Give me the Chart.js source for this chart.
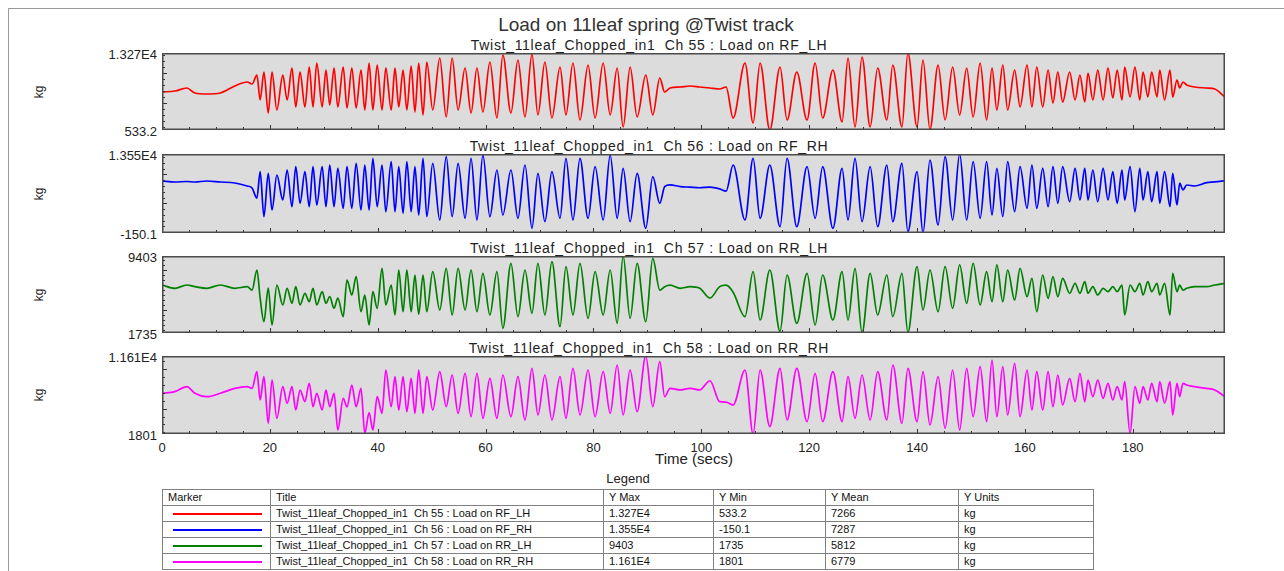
<!DOCTYPE html>
<html>
<head>
<meta charset="utf-8">
<script src="https://cdn.jsdelivr.net/npm/chart.js@4.4.1/dist/chart.umd.min.js"></script>
<style>
body{margin:0;background:#fff;font-family:"Liberation Sans",Arial,sans-serif;color:#222;}
#page{position:relative;width:1284px;height:571px;overflow:hidden;}
#frame{position:absolute;left:8px;top:8px;width:1300px;height:600px;border-left:1px solid #9a9a9a;border-top:1px solid #9a9a9a;}
.t{position:absolute;white-space:pre;line-height:1;}
.c{transform:translateX(-50%);}
.r{transform:translateX(-100%);}
canvas{position:absolute;}
#legend{position:absolute;left:162px;top:489px;border-collapse:collapse;font-size:11px;color:#111;}
#legend td{border:1px solid #808080;height:15px;padding:0 0 0 5px;white-space:pre;line-height:15px;}
.mk{height:0;margin:0 8px 0 5px;border-top-width:2px;border-top-style:solid;}
</style>
</head>
<body>
<div id="page">
<div id="frame"></div>
<div class="t c" style="left:646px;top:15px;font-size:19px;color:#333;">Load on 11leaf spring @Twist track</div>
<div class="t c" style="left:694px;top:451px;font-size:15px;">Time (secs)</div>
<div class="t c" style="left:628px;top:472px;font-size:13px;">Legend</div>
<table id="legend"></table>
</div>
<script>
// time base (secs) shared by the four channels
var timeSec = [
0, 2.4, 4.6, 6.1, 8.3, 10.8, 13.5, 15.8, 16.7,
17.6, 18.2, 18.9, 19.7, 20.4, 21.3, 22.4, 23.2, 24.1, 24.8,
25.6, 26.5, 27.3, 28.0, 28.7, 29.7, 30.4, 31.1, 31.9, 32.6,
33.6, 34.3, 35.2, 36.0, 36.9, 37.6, 38.4, 39.1, 39.9, 40.8,
41.5, 42.5, 43.2, 43.9, 44.7, 45.4, 46.2, 46.9, 47.6, 48.4,
49.1, 50.2, 51.5, 52.7, 53.8, 54.9, 56.2, 57.3, 58.4, 59.5,
60.8, 62.1, 63.2, 64.7, 66.0, 67.3, 68.6, 69.7, 71.0, 72.3,
73.8, 74.9, 76.2, 77.5, 79.0, 80.3, 81.8, 83.1, 84.4, 85.5,
86.8, 88.1, 89.7, 91.0, 92.3,
93.2, 94.2, 96.1, 97.9, 99.7, 101.6, 103.4, 104.6,
105.9, 108.1, 109.6, 110.9, 112.7, 114.6, 115.9, 117.7, 119.6, 121.1,
122.5, 124.4, 126.1, 127.2, 128.5, 129.8, 131.3, 132.7, 134.4, 135.5,
137.2, 138.3, 140.0, 141.1, 142.4, 143.9, 145.2, 146.6, 147.9, 149.2,
150.4, 151.7, 152.9, 153.9, 154.8, 155.9, 156.8, 158.1, 159.1, 160.4,
161.3, 162.2, 163.3, 164.3, 165.2, 166.1, 167.0, 168.3, 169.3, 170.2,
171.1, 171.7, 172.6, 173.5, 174.5, 175.4, 176.3, 177.1, 178.0, 178.5,
179.5, 180.4, 181.3, 181.9, 182.8, 183.5, 184.5, 185.0, 185.9, 186.9,
187.4, 188.2, 188.7, 189.3,
190.0, 191.5, 193.7, 195.2, 197.1
];

// Ch 55 : Load on RF_LH (kg)
var rfLH = [
6818, 6984, 7480, 6653, 6487, 6653, 7810, 8472, 8141,
9630, 5495, 10127, 3345, 10127, 3841, 9630, 5495, 10788, 4337,
10127, 4337, 10953, 4337, 11615, 4337, 10457, 4668, 10788, 4337,
10953, 4172, 10788, 4172, 10457, 3841, 11615, 3841, 11284, 3841,
10788, 3841, 10788, 4337, 10457, 3841, 11119, 3510, 11615, 3014,
11780, 3841, 12442, 2683, 12442, 3841, 10788, 3345, 10788, 3510,
11780, 2518, 12938, 3345, 12111, 2683, 13100, 3014, 11780, 2518,
10953, 3014, 11615, 2187, 11284, 2518, 11615, 3014, 10788, 1030,
10953, 2683, 9630, 3014, 9134,
6818, 7480, 7645, 7810, 7645, 7480, 7314, 7645,
2518, 11615, 1691, 11615, 533, 10953, 2187, 10127, 2187, 11615,
2518, 10457, 1856, 12442, 1030, 12607, 1030, 10788, 2187, 11284,
1030, 13270, 1030, 12111, 600, 11284, 2187, 10953, 3014, 10788,
2683, 11615, 2187, 10788, 3841, 11284, 3841, 10457, 4337, 11284,
4337, 10953, 4337, 10457, 5000, 10127, 5164, 10127, 5495, 9630,
5164, 9961, 5495, 10457, 5495, 10788, 5826, 10457, 5495, 10953,
5991, 10953, 5495, 10127, 5991, 10127, 5991, 10457, 5495, 10457,
5991, 8803, 7480, 8472,
7976, 7645, 7480, 7314, 5991
];

// Ch 56 : Load on RF_RH (kg)
var rfRH = [
8867, 8694, 8780, 8694, 8867, 8694, 8520, 8000, 7653,
5900, 10480, 2676, 10200, 3838, 9907, 5572, 10774, 4410, 11346,
5000, 10480, 4410, 11346, 4705, 11346, 4410, 11641, 4410, 11069,
4133, 11346, 4133, 11935, 3838, 11641, 3838, 12800, 4410, 11641,
3543, 12214, 3543, 11346, 3266, 12214, 3543, 11346, 2971, 12800,
2676, 11935, 2104, 13080, 2676, 11935, 2398, 12800, 2104, 13375,
2676, 10774, 2971, 10774, 2398, 11641, 665, 10200, 1810, 10480,
2398, 12800, 2104, 12800, 2398, 11346, 2104, 13375, 2398, 11069,
1810, 10200, 665, 9612, 5000,
7900, 8200, 7900, 7800, 7700, 7800, 7500, 7100,
11641, 2104, 12800, 2398, 11641, 942, 12800, 942, 11346, 2398,
11346, 665, 11069, 2104, 12800, 1810, 11346, 942, 11641, 1810,
11935, 75, 10480, -150, 12508, 1237, 13080, 2104, 13550, 2104,
12214, 2398, 12214, 2971, 11069, 2676, 12214, 3543, 11346, 4133,
11641, 4133, 11069, 4410, 11346, 5000, 11346, 5277, 11069, 5572,
11069, 5572, 10774, 5277, 11069, 5572, 10480, 5000, 10774, 5572,
11346, 3543, 11069, 5572, 10480, 5277, 10480, 5000, 10480, 4410,
10200, 4705, 8520, 7306,
8173, 8000, 8572, 8700, 8919
];

// Ch 57 : Load on RR_LH (kg)
var rrLH = [
6516, 6187, 6516, 6347, 6187, 6516, 6187, 6350, 6000,
8010, 5200, 2860, 6200, 2532, 6516, 4524, 6187, 4693, 6347,
4524, 5689, 4853, 6187, 4524, 5848, 4693, 5350, 4200, 5200,
3360, 7014, 5520, 7342, 3856, 5500, 2532, 5848, 4195, 8180,
4524, 6516, 3528, 8010, 3856, 8010, 3856, 7500, 3600, 7512,
3856, 7840, 4026, 8180, 3528, 8180, 4026, 8010, 3856, 7680,
3528, 7840, 2203, 8677, 3358, 8010, 3697, 8677, 3528, 8837,
2362, 8340, 3528, 8677, 3199, 7840, 3528, 8010, 2701, 9403,
3199, 8677, 2860, 9175, 6000,
6347, 6500, 6187, 6347, 6187, 5220, 6350, 6500,
5800, 3358, 7840, 3030, 8010, 1900, 7512, 2701, 7680, 2532,
7512, 3030, 7840, 3030, 8180, 1735, 7680, 3528, 7512, 3358,
7680, 1800, 8340, 4026, 8010, 3856, 8340, 4195, 8510, 4693,
8677, 4524, 7840, 4853, 8510, 4853, 8010, 5020, 8180, 5350,
7180, 3856, 7512, 5190, 7342, 5350, 7180, 5689, 6685, 5689,
6845, 5689, 6347, 5520, 6187, 5848, 6347, 5848, 6516, 3528,
6516, 5848, 6685, 5520, 6845, 5848, 6685, 5520, 6685, 3528,
7680, 5848, 6516, 6000,
6187, 6347, 6347, 6516, 6685
];

// Ch 58 : Load on RR_RH (kg)
var rrRH = [
6921, 7123, 7752, 6921, 6493, 6921, 7540, 7752, 7540,
9638, 6078, 9009, 3147, 8594, 3776, 7752, 5665, 7752, 4820,
7336, 5865, 8179, 5235, 6921, 4820, 7336, 5235, 6921, 2304,
6292, 5200, 7950, 5235, 7540, 1889, 4500, 2304, 6493, 4405,
9852, 5235, 9009, 4820, 9009, 4600, 8800, 4405, 9852, 4405,
9009, 4820, 9638, 5235, 9223, 4405, 9437, 3977, 9437, 3776,
8800, 3776, 9223, 3977, 9009, 3562, 10060, 4190, 9223, 3562,
9009, 3776, 10060, 4190, 9852, 3977, 9638, 4405, 10480, 4190,
9852, 4610, 11610, 5235, 10900,
6493, 7540, 7336, 7540, 7336, 8500, 5865, 5800,
5450, 9852, 1801, 9852, 2719, 10060, 3562, 10060, 3350, 9437,
3350, 9638, 3350, 9009, 3776, 9223, 3562, 9638, 3562, 10480,
3147, 10060, 3350, 9638, 2930, 9009, 2510, 9852, 2304, 10060,
3977, 10270, 3350, 11110, 3977, 10270, 4190, 10690, 3977, 9852,
4820, 9638, 4820, 9638, 5235, 9223, 5450, 8800, 5865, 9437,
5865, 8594, 6493, 8594, 6292, 8179, 6078, 7752, 6078, 8380,
1889, 7752, 5665, 7752, 6078, 8179, 5865, 8380, 5665, 8380,
4190, 8179, 6500, 8179,
7960, 7752, 7540, 7336, 6493
];

var channels = ['Twist_11leaf_Chopped_in1  Ch 55 : Load on RF_LH',
                'Twist_11leaf_Chopped_in1  Ch 56 : Load on RF_RH',
                'Twist_11leaf_Chopped_in1  Ch 57 : Load on RR_LH',
                'Twist_11leaf_Chopped_in1  Ch 58 : Load on RR_RH'];
var yMin = [533.2, -150.1, 1735, 1801];
var yMax = [13270, 13550, 9403, 11610];
var yMinText = ['533.2', '-150.1', '1735', '1801'];
var yMaxText = ['1.327E4', '1.355E4', '9403', '1.161E4'];
var yMeanText = ['7266', '7287', '5812', '6779'];
var yUnits = ['kg', 'kg', 'kg', 'kg'];
var xTicks = [0, 20, 40, 60, 80, 100, 120, 140, 160, 180];
var series = [rfLH, rfRH, rrLH, rrRH];
var colors = ['#ff0000', '#0000ff', '#008000', '#ff00ff'];

// layout of the four panels
var plotLeft = 162, plotW = 1063;
var panelTop = [53, 154, 256, 356];
var panelH = [77, 79, 77, 78];
var yMajor = [5000, 5000, 4000, 5000];
var yMinor = [1000, 1000, 500, 1000];

var panelDeco = {
  id: 'panelDeco',
  beforeDraw: function(chart){
    var a = chart.chartArea, ctx = chart.ctx;
    ctx.save();
    ctx.fillStyle = '#dcdcdc';
    ctx.fillRect(a.left, a.top, a.right - a.left, a.bottom - a.top);
    ctx.restore();
  },
  afterDraw: function(chart, args, opts){
    var a = chart.chartArea, ctx = chart.ctx;
    var xs = chart.scales.x, ys = chart.scales.y;
    ctx.save();
    ctx.strokeStyle = '#333';
    ctx.lineWidth = 1;
    for (var t = 0; t <= 195; t += 5) {
      var px = Math.round(xs.getPixelForValue(t)) + 0.5;
      var len = (t % 20 === 0) ? 5 : 3;
      ctx.beginPath(); ctx.moveTo(px, a.bottom); ctx.lineTo(px, a.bottom - len); ctx.stroke();
    }
    var v0 = Math.ceil(ys.min / opts.minor) * opts.minor;
    for (var v = v0; v <= ys.max; v += opts.minor) {
      var py = Math.round(ys.getPixelForValue(v)) + 0.5;
      var l2 = (v % opts.major === 0) ? 5 : 3;
      ctx.beginPath(); ctx.moveTo(a.left, py); ctx.lineTo(a.left + l2, py); ctx.stroke();
    }
    ctx.strokeStyle = '#4a4a4a';
    ctx.lineWidth = 1.5;
    ctx.strokeRect(a.left + 0.75, a.top + 0.75, a.right - a.left - 1.5, a.bottom - a.top - 1.5);
    ctx.restore();
  }
};

var page = document.getElementById('page');
function addText(txt, x, y, size, cls, extra){
  var d = document.createElement('div');
  d.className = 't ' + cls;
  d.textContent = txt;
  d.style.left = x + 'px';
  d.style.top = y + 'px';
  d.style.fontSize = size + 'px';
  if (extra) d.style.cssText += extra;
  page.appendChild(d);
  return d;
}

var charts = [];
for (var i = 0; i < 4; i++) {
  var cv = document.createElement('canvas');
  cv.width = plotW; cv.height = panelH[i];
  cv.style.left = plotLeft + 'px';
  cv.style.top = panelTop[i] + 'px';
  cv.style.width = plotW + 'px';
  cv.style.height = panelH[i] + 'px';
  page.appendChild(cv);

  var pts = timeSec.map(function(t, k){ return {x: t, y: this[k]}; }, series[i]);
  var ch = new Chart(cv, {
    type: 'line',
    data: { datasets: [{ data: pts, borderColor: colors[i], borderWidth: 1.7,
                         pointRadius: 0, cubicInterpolationMode: 'monotone', fill: false }] },
    options: {
      responsive: false, animation: false, events: [],
      layout: { padding: 0 },
      plugins: { legend: { display: false }, tooltip: { enabled: false },
                 panelDeco: { major: yMajor[i], minor: yMinor[i] } },
      scales: {
        x: { type: 'linear', min: 0, max: 197.1, display: false },
        y: { type: 'linear', min: yMin[i], max: yMax[i], display: false }
      }
    },
    plugins: [panelDeco]
  });
  charts.push(ch);

  var ys = ch.scales.y;
  addText(channels[i], 649, panelTop[i] - 15, 14, 'c', 'letter-spacing:0.7px;');
  addText(yMaxText[i], 157, panelTop[i] + ys.getPixelForValue(yMax[i]) - 5, 13, 'r');
  addText(yMinText[i], 157, panelTop[i] + ys.getPixelForValue(yMin[i]) - 5, 13, 'r');
  addText('kg', 39, panelTop[i] + panelH[i] / 2, 12, 'c', 'transform:translate(-50%,-50%) rotate(-90deg);');
}

var xs = charts[3].scales.x;
xTicks.forEach(function(v){
  addText(String(v), plotLeft + xs.getPixelForValue(v), 441, 13, 'c');
});

// legend table
var tbl = document.getElementById('legend');
var widths = [108, 333, 110, 112, 133, 135];
var head = ['Marker', 'Title', 'Y Max', 'Y Min', 'Y Mean', 'Y Units'];
var tr = document.createElement('tr');
head.forEach(function(h, k){
  var td = document.createElement('td');
  td.textContent = h; td.style.width = (widths[k] - 6) + 'px';
  tr.appendChild(td);
});
tbl.appendChild(tr);
for (var r = 0; r < 4; r++) {
  tr = document.createElement('tr');
  var cells = ['', channels[r], yMaxText[r], yMinText[r], yMeanText[r], yUnits[r]];
  for (var k = 0; k < cells.length; k++) {
    var td = document.createElement('td');
    if (k === 0) {
      var mk = document.createElement('div');
      mk.className = 'mk';
      mk.style.borderTopColor = colors[r];
      td.appendChild(mk);
    } else {
      td.textContent = cells[k];
    }
    tr.appendChild(td);
  }
  tbl.appendChild(tr);
}
</script>
</body>
</html>
